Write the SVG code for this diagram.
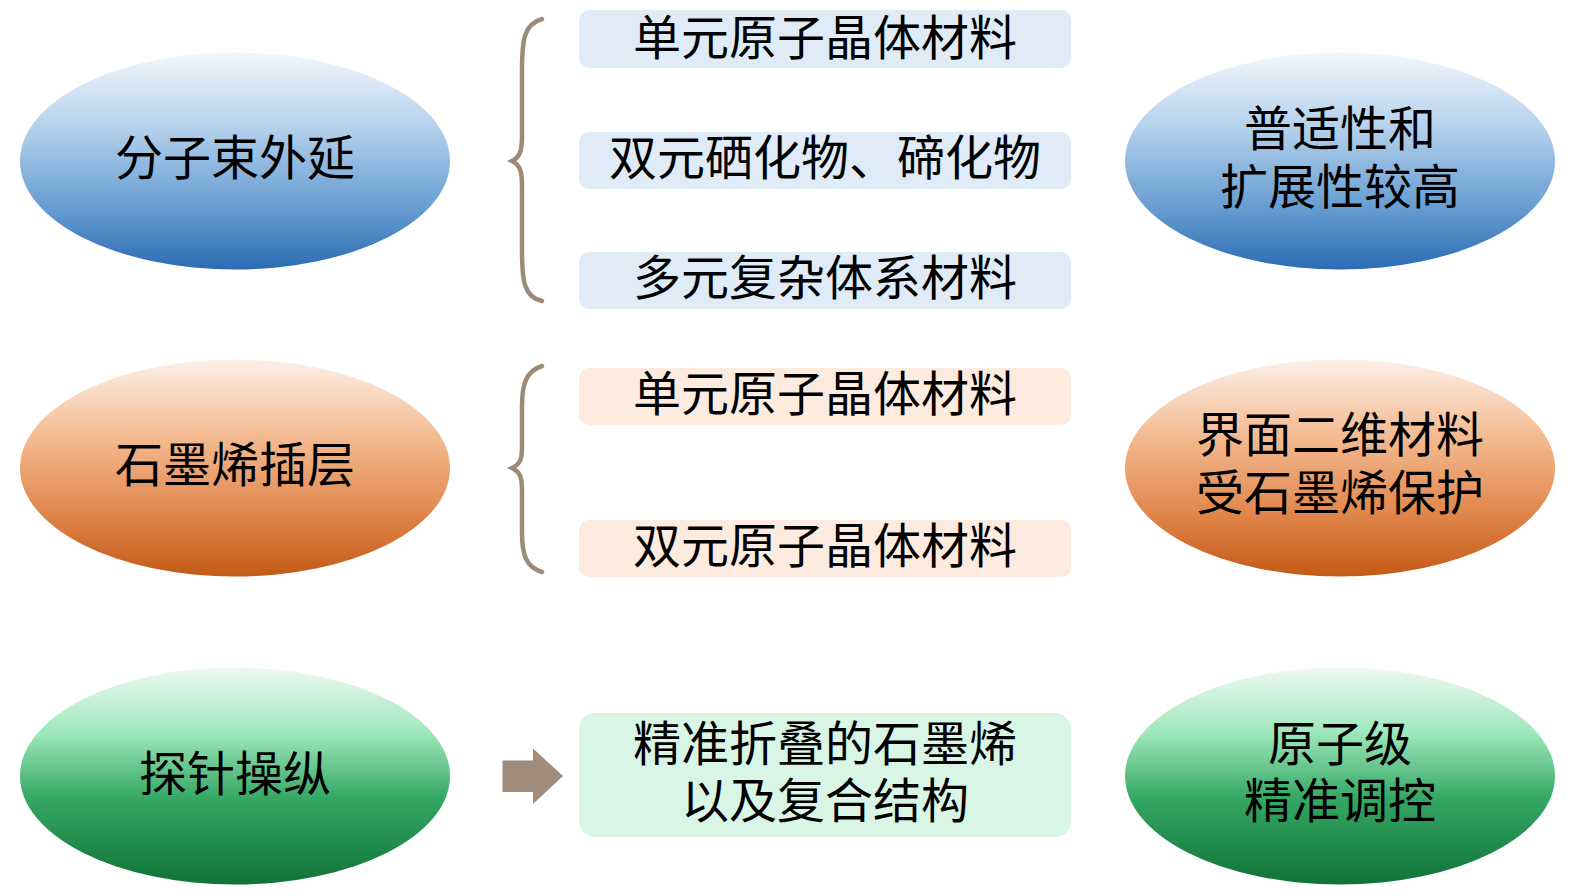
<svg xmlns="http://www.w3.org/2000/svg" width="1575" height="896" viewBox="0 0 1575 896">
<defs>
<linearGradient id="gBlue" x1="0" y1="0" x2="0" y2="1">
<stop offset="0" stop-color="#f2f6fb"/>
<stop offset="0.35" stop-color="#b3d0ec"/>
<stop offset="0.7" stop-color="#6a9fd2"/>
<stop offset="1" stop-color="#2c6cb3"/>
</linearGradient>
<linearGradient id="gOrange" x1="0" y1="0" x2="0" y2="1">
<stop offset="0" stop-color="#fcf0e8"/>
<stop offset="0.35" stop-color="#f4bb92"/>
<stop offset="0.7" stop-color="#e1884e"/>
<stop offset="1" stop-color="#c45a17"/>
</linearGradient>
<linearGradient id="gGreen" x1="0" y1="0" x2="0" y2="1">
<stop offset="0" stop-color="#eef9f3"/>
<stop offset="0.3" stop-color="#9ee8bb"/>
<stop offset="0.6" stop-color="#36a865"/>
<stop offset="1" stop-color="#107238"/>
</linearGradient>
<style>
text{font-family:"Liberation Serif","Noto Sans CJK SC",serif;font-size:48px;fill:#000;text-anchor:middle;dominant-baseline:central}
.brace{fill:none;stroke:#9c8b78;stroke-width:4.5;stroke-linecap:round}
.bb{fill:#dfebf6}
.bo{fill:#fdebe0}
.bg{fill:#d9f5e6}
</style>
</defs>

<g id="connectors">
<path class="brace" d="M542,19 C524,24 522,40 522,70 L522,136 C522,151 520,157 512,161 C520,165 522,171 522,186 L522,251 C522,281 524,297 542,301"/>
<path class="brace" d="M542,366 C526,371 522,384 522,407 L522,447 C522,460 520,464 512,468 C520,472 522,477 522,490 L522,532 C522,555 526,567 542,572"/>
<polygon points="502.5,760.5 533,760.5 533,748.5 563,776 533,804 533,792 502.5,792" fill="#a18c7b"/>
</g>

<g id="node-mbe">
<ellipse cx="235" cy="161" rx="215" ry="108.5" fill="url(#gBlue)"/>
<text x="235" y="158">分子束外延</text>
</g>
<g id="node-graphene">
<ellipse cx="235" cy="468" rx="215" ry="108.5" fill="url(#gOrange)"/>
<text x="235" y="465">石墨烯插层</text>
</g>
<g id="node-probe">
<ellipse cx="235" cy="776" rx="215" ry="108.5" fill="url(#gGreen)"/>
<text x="235" y="774">探针操纵</text>
</g>

<g id="box-b1">
<rect class="bb" x="579" y="10" width="492" height="58" rx="10"/>
<text x="825" y="38">单元原子晶体材料</text>
</g>
<g id="box-b2">
<rect class="bb" x="579" y="132" width="492" height="57" rx="10"/>
<text x="825" y="158">双元硒化物、碲化物</text>
</g>
<g id="box-b3">
<rect class="bb" x="579" y="252" width="492" height="57" rx="10"/>
<text x="825" y="278">多元复杂体系材料</text>
</g>
<g id="box-o1">
<rect class="bo" x="579" y="368" width="492" height="57" rx="10"/>
<text x="825" y="394">单元原子晶体材料</text>
</g>
<g id="box-o2">
<rect class="bo" x="579" y="520" width="492" height="57" rx="10"/>
<text x="825" y="546">双元原子晶体材料</text>
</g>
<g id="box-g1">
<rect class="bg" x="579" y="713" width="492" height="124" rx="16"/>
<text x="825" y="744">精准折叠的石墨烯</text>
<text x="825" y="801">以及复合结构</text>
</g>

<g id="node-r1">
<ellipse cx="1340" cy="161" rx="215" ry="108.5" fill="url(#gBlue)"/>
<text x="1340" y="129">普适性和</text>
<text x="1340" y="187">扩展性较高</text>
</g>
<g id="node-r2">
<ellipse cx="1340" cy="468" rx="215" ry="108.5" fill="url(#gOrange)"/>
<text x="1340" y="435">界面二维材料</text>
<text x="1340" y="493">受石墨烯保护</text>
</g>
<g id="node-r3">
<ellipse cx="1340" cy="776" rx="215" ry="108.5" fill="url(#gGreen)"/>
<text x="1340" y="744">原子级</text>
<text x="1340" y="801">精准调控</text>
</g>
</svg>
